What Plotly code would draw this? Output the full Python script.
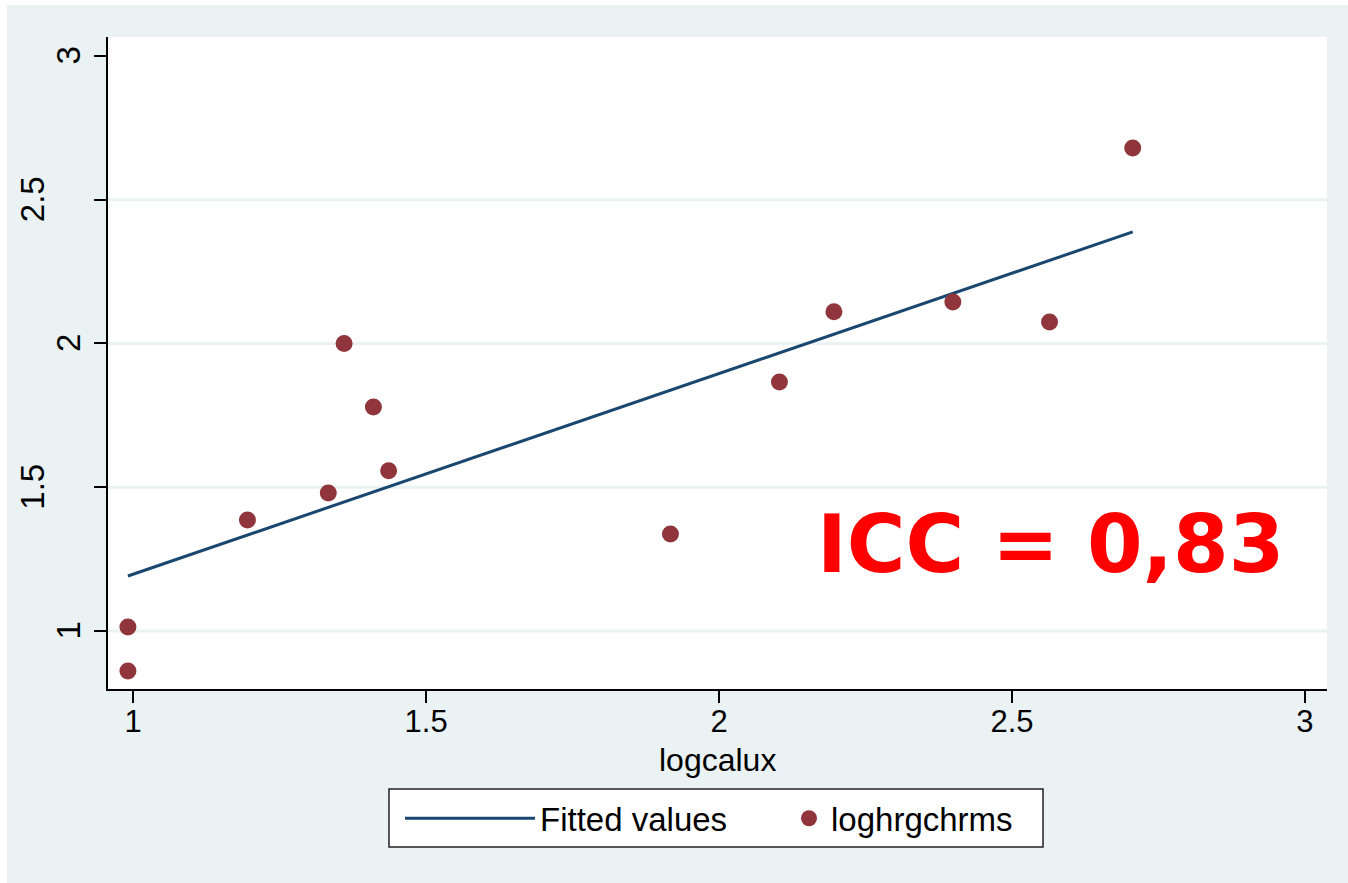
import plotly.graph_objects as go

# ---- data ----
logcalux = [0.991, 0.991, 1.195, 1.333, 1.360, 1.410, 1.436, 1.917, 2.103, 2.196, 2.399, 2.564, 2.706]
loghrgchrms = [1.014, 0.861, 1.386, 1.480, 2.000, 1.779, 1.557, 1.337, 1.866, 2.110, 2.144, 2.075, 2.680]
fitted_x = [0.991, 2.706]
fitted_y = [1.191, 2.388]
x_ticks = [1, 1.5, 2, 2.5, 3]
y_ticks = [1, 1.5, 2, 2.5, 3]
y_grid = [1, 1.5, 2, 2.5]
x_title = "logcalux"
annotation_text = "ICC = 0,83"

BG = "#EAF2F3"
NAVY = "#1A476F"
MAROON = "#90353B"
FONT = "Liberation Sans, Arial, sans-serif"

# plot-area geometry in pixels (for converting layout positions)
L_M, R_M, T_M, B_M = 108, 21, 37, 194
PW, PH = 1348 - L_M - R_M, 883 - T_M - B_M


def px_x(p):
    return (p - L_M) / PW


def px_y(p):
    return (883 - B_M - p) / PH


fig = go.Figure()
fig.add_trace(go.Scatter(
    x=fitted_x, y=fitted_y, mode="lines", name="Fitted values",
    line=dict(color=NAVY, width=3), legend="legend",
))
fig.add_trace(go.Scatter(
    x=logcalux, y=loghrgchrms, mode="markers", name="loghrgchrms",
    marker=dict(color=MAROON, size=17, line=dict(width=0)), legend="legend2",
))

shapes = []
for g in y_grid:
    shapes.append(dict(type="line", xref="paper", yref="y", x0=0, x1=1, y0=g, y1=g,
                       line=dict(color=BG, width=3), layer="below"))
# thin white strips at the top and left edges of the image
shapes.append(dict(type="rect", xref="paper", yref="paper", x0=-0.2, x1=px_x(7),
                   y0=-0.5, y1=1.5, fillcolor="white", line=dict(width=0), layer="above"))
shapes.append(dict(type="rect", xref="paper", yref="paper", x0=-0.2, x1=1.2,
                   y0=px_y(5), y1=1.5, fillcolor="white", line=dict(width=0), layer="above"))
# legend frame
shapes.append(dict(type="rect", xref="paper", yref="paper", x0=px_x(389), x1=px_x(1043),
                   y0=px_y(847), y1=px_y(789), fillcolor="white",
                   line=dict(color="#222222", width=1.5), layer="above"))

annotations = [
    dict(
        x=2.566, y=1.299, xref="x", yref="y", text="<b>" + annotation_text + "</b>",
        showarrow=False, font=dict(family="DejaVu Sans, sans-serif", size=80, color="#FF0000"),
        xanchor="center", yanchor="middle",
    ),
    dict(
        x=0.5, y=px_y(760), xref="paper", yref="paper", text=x_title, showarrow=False,
        xanchor="center", yanchor="middle", font=dict(family=FONT, size=32, color="black"),
    ),
]
# vertical y tick labels (Stata style: longer labels sit further left)
for v in y_ticks:
    lab = f"{v:g}"
    annotations.append(dict(
        x=0, y=v, xref="paper", yref="y", text=lab, showarrow=False, textangle=-90,
        xanchor="right", yanchor="middle", xshift=-19 - 18 * (len(lab) - 1),
        font=dict(family=FONT, size=33, color="black"),
    ))

legend_common = dict(
    orientation="h", yanchor="top", y=px_y(789) - 0.002, xanchor="left",
    bgcolor="rgba(0,0,0,0)", borderwidth=0,
    font=dict(family=FONT, size=33, color="black"),
)

fig.update_layout(
    width=1348, height=883,
    margin=dict(l=L_M, r=R_M, t=T_M, b=B_M),
    paper_bgcolor=BG, plot_bgcolor="white",
    font=dict(family=FONT, size=30, color="black"),
    shapes=shapes,
    showlegend=True,
    legend=dict(x=px_x(400), itemwidth=130, **legend_common),
    legend2=dict(x=px_x(787), itemwidth=34, **legend_common),
    annotations=annotations,
)
fig.update_xaxes(
    range=[0.957, 3.0376], tickmode="array", tickvals=x_ticks, ticktext=[f"{v:g}" for v in x_ticks],
    showgrid=False, zeroline=False, showline=True, linecolor="black", linewidth=2,
    ticks="outside", ticklen=12, tickwidth=2, tickcolor="black",
    tickfont=dict(size=31), ticklabelstandoff=-8,
)
fig.update_yaxes(
    range=[0.798, 3.066], tickmode="array", tickvals=y_ticks,
    showgrid=False, zeroline=False, showline=True, linecolor="black", linewidth=2,
    ticks="outside", ticklen=12, tickwidth=2, tickcolor="black",
    showticklabels=False,
)

fig.write_html("out.html")
